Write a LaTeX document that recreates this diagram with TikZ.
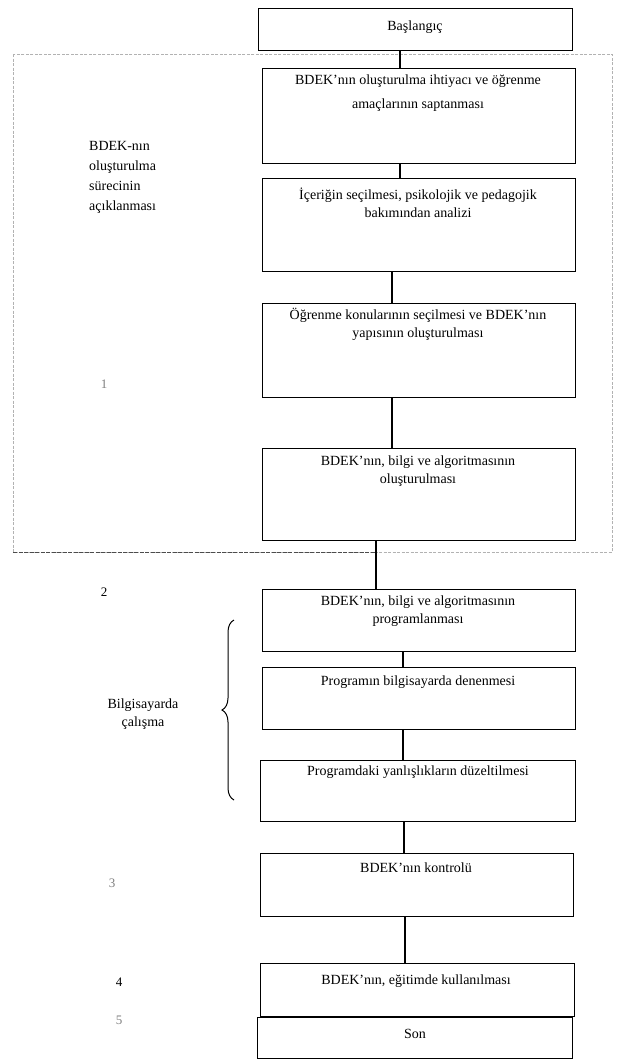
\documentclass[tikz,border=0pt]{standalone}
\usepackage{fontspec}
\setmainfont{Liberation Serif}
\usetikzlibrary{decorations.pathreplacing}
\begin{document}
\begin{tikzpicture}[x=1pt,y=-1pt,
  box/.style={draw=black, line width=1.2pt, inner sep=0pt, anchor=north west},
  txt/.style={align=center, inner sep=0pt, anchor=north, font=\fontsize{14}{18}\selectfont},
  side/.style={align=left, inner sep=0pt, anchor=north west, font=\fontsize{14}{20}\selectfont},
  num/.style={inner sep=0pt, font=\fontsize{13}{14}\selectfont},
  conn/.style={draw=black, line width=1.2pt}]
\useasboundingbox[fill=white] (0,0) rectangle (617,1061);
% group frame
\draw[gray!60, line width=1pt, dash pattern=on 3pt off 1.5pt] (13,54) rectangle (612,552);
\draw[black!70, line width=1pt, dash pattern=on 4pt off 1.5pt] (13,552) -- (376,552);
% boxes
\node[box, minimum width=314, minimum height=42] (b0) at (258,8) {};
\node[box, minimum width=313, minimum height=95] (b1) at (262,68) {};
\node[box, minimum width=313, minimum height=93] (b2) at (262,178) {};
\node[box, minimum width=313, minimum height=94] (b3) at (262,303) {};
\node[box, minimum width=313, minimum height=92] (b4) at (262,448) {};
\node[box, minimum width=313, minimum height=62] (b5) at (262,589) {};
\node[box, minimum width=313, minimum height=62] (b6) at (262,667) {};
\node[box, minimum width=315, minimum height=61] (b7) at (260,760) {};
\node[box, minimum width=313, minimum height=63] (b8) at (260,853) {};
\node[box, minimum width=314, minimum height=53] (b9) at (260,963) {};
\node[box, minimum width=315, minimum height=41] (b10) at (257,1017) {};
% texts
\node[txt] (t0) at (415,21) {Başlangıç};
\node[txt] (t1) at (418,75) {BDEK'nın oluşturulma ihtiyacı ve öğrenme\\[6pt] amaçlarının saptanması};
\node[txt] (t2) at (418,188) {İçeriğin seçilmesi, psikolojik ve pedagojik\\ bakımından analizi};
\node[txt] (t3) at (418,308) {Öğrenme konularının seçilmesi ve BDEK'nın\\ yapısının oluşturulması};
\node[txt] (t4) at (418,456) {BDEK'nın, bilgi ve algoritmasının\\ oluşturulması};
\node[txt] (t5) at (418,596) {BDEK'nın, bilgi ve algoritmasının\\ programlanması};
\node[txt] (t6) at (418,676) {Programın bilgisayarda denenmesi};
\node[txt] (t7) at (418,766) {Programdaki yanlışlıkların düzeltilmesi};
\node[txt] (t8) at (416,863) {BDEK'nın kontrolü};
\node[txt] (t9) at (416,975) {BDEK'nın, eğitimde kullanılması};
\node[txt] (t10) at (415,1029) {Son};
% side labels
\node[side] (s1) at (89,141) {BDEK-nın\\ oluşturulma\\ sürecinin\\ açıklanması};
\node[txt] (s2) at (143,699) {Bilgisayarda\\ çalışma};
\node[num, text=gray] (n1) at (104,384) {1};
\node[num] (n2) at (104,592) {2};
\node[num, text=gray] (n3) at (112,883) {3};
\node[num] (n4) at (119,982) {4};
\node[num, text=gray] (n5) at (119,1020) {5};
% brace
\coordinate (brB) at (234,800);
\coordinate (brT) at (234,620);
\draw[line width=1pt, decorate, decoration={brace, amplitude=12pt}] (brB) -- (brT);
% connectors
\draw[conn] (b0.south -| 400,0) -- (b1.north -| 400,0);
\draw[conn] (b1.south -| 400,0) -- (b2.north -| 400,0);
\draw[conn] (b2.south -| 392,0) -- (b3.north -| 392,0);
\draw[conn] (b3.south -| 392,0) -- (b4.north -| 392,0);
\draw[conn] (b4.south -| 376,0) -- (b5.north -| 376,0);
\draw[conn] (b5.south -| 403,0) -- (b6.north -| 403,0);
\draw[conn] (b6.south -| 403,0) -- (b7.north -| 403,0);
\draw[conn] (b7.south -| 404,0) -- (b8.north -| 404,0);
\draw[conn] (b8.south -| 405,0) -- (b9.north -| 405,0);
\end{tikzpicture}
\end{document}
